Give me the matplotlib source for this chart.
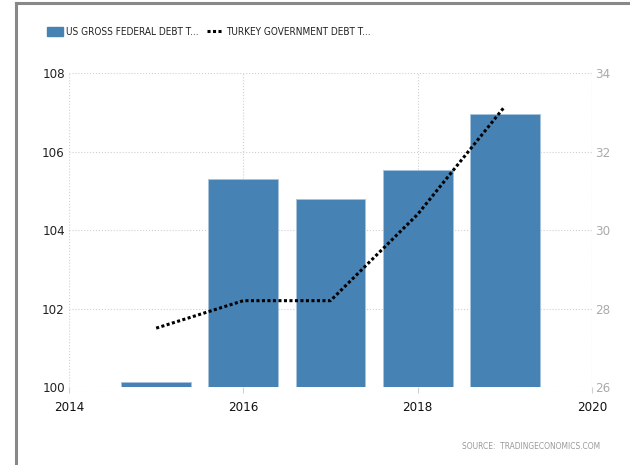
import numpy as np
import matplotlib.pyplot as plt
from matplotlib.lines import Line2D
from matplotlib.patches import Patch

plt.rcParams['font.family'] = ['DejaVu Sans']
plt.rcParams['font.stretch'] = 'condensed'

# data
years = [2015, 2016, 2017, 2018, 2019]
us_debt = [100.12, 105.3, 104.8, 105.52, 106.95]
turkey_debt = [27.5, 28.2, 28.2, 30.4, 33.15]

BAR = '#4682b4'
GRID = '#d0d0d0'

fig = plt.figure(figsize=(6.3, 4.65), dpi=100)
ax = fig.add_axes([0.1095, 0.1677, 0.8302, 0.6753])

ax.bar(years, us_debt, width=0.8, bottom=0, color=BAR, edgecolor='#a9c4dc', lw=0.6, zorder=2)
ax.set_ylim(100, 108)
ax.set_xlim(2014, 2020)
ax.set_yticks([100, 102, 104, 106, 108])
ax.set_xticks([2014, 2016, 2018, 2020])
ax.tick_params(axis='y', length=0, pad=3, labelsize=9.5, labelcolor='#222222')
ax.tick_params(axis='x', length=4, color=GRID, pad=6, labelsize=9.5, labelcolor='#111111')
ax.grid(True, color=GRID, ls=':', lw=0.8, zorder=0)
for s in ax.spines.values():
    s.set_visible(False)

ax2 = ax.twinx()
ax2.plot(years, turkey_debt, color='black', ls=(0, (1, 0.8)), lw=2.2, zorder=3)
ax2.set_ylim(26, 34)
ax2.set_yticks([26, 28, 30, 32, 34])
ax2.tick_params(axis='y', length=0, pad=2, labelsize=9.5, labelcolor='#aaaaaa')
for s in ax2.spines.values():
    s.set_visible(False)
ax2.axvline(2020, color=GRID, ls=':', lw=0.8)

# legend across the top
handles = [Patch(facecolor=BAR, edgecolor=BAR, label='US GROSS FEDERAL DEBT T...'),
           Line2D([0], [0], color='black', ls=(0, (1, 0.8)), lw=2.2,
                  label='TURKEY GOVERNMENT DEBT T...')]
fig.legend(handles=handles, loc='upper left', bbox_to_anchor=(0.06, 0.962), ncol=2,
           frameon=False, fontsize=7.2, handlelength=1.6, handleheight=1.1,
           handletextpad=0.3, columnspacing=0.9, labelcolor='#222222')

fig.text(0.953, 0.03, 'SOURCE:  TRADINGECONOMICS.COM', ha='right', va='bottom',
         fontsize=6, color='#999999')

# outer frame (top and left only)
fig.add_artist(Line2D([0.025, 1.0], [0.994, 0.994], transform=fig.transFigure,
                      color='#888888', lw=2.2))
fig.add_artist(Line2D([0.025, 0.025], [0.0, 0.994], transform=fig.transFigure,
                      color='#888888', lw=2.2))

fig.savefig('out.png', dpi=100)
